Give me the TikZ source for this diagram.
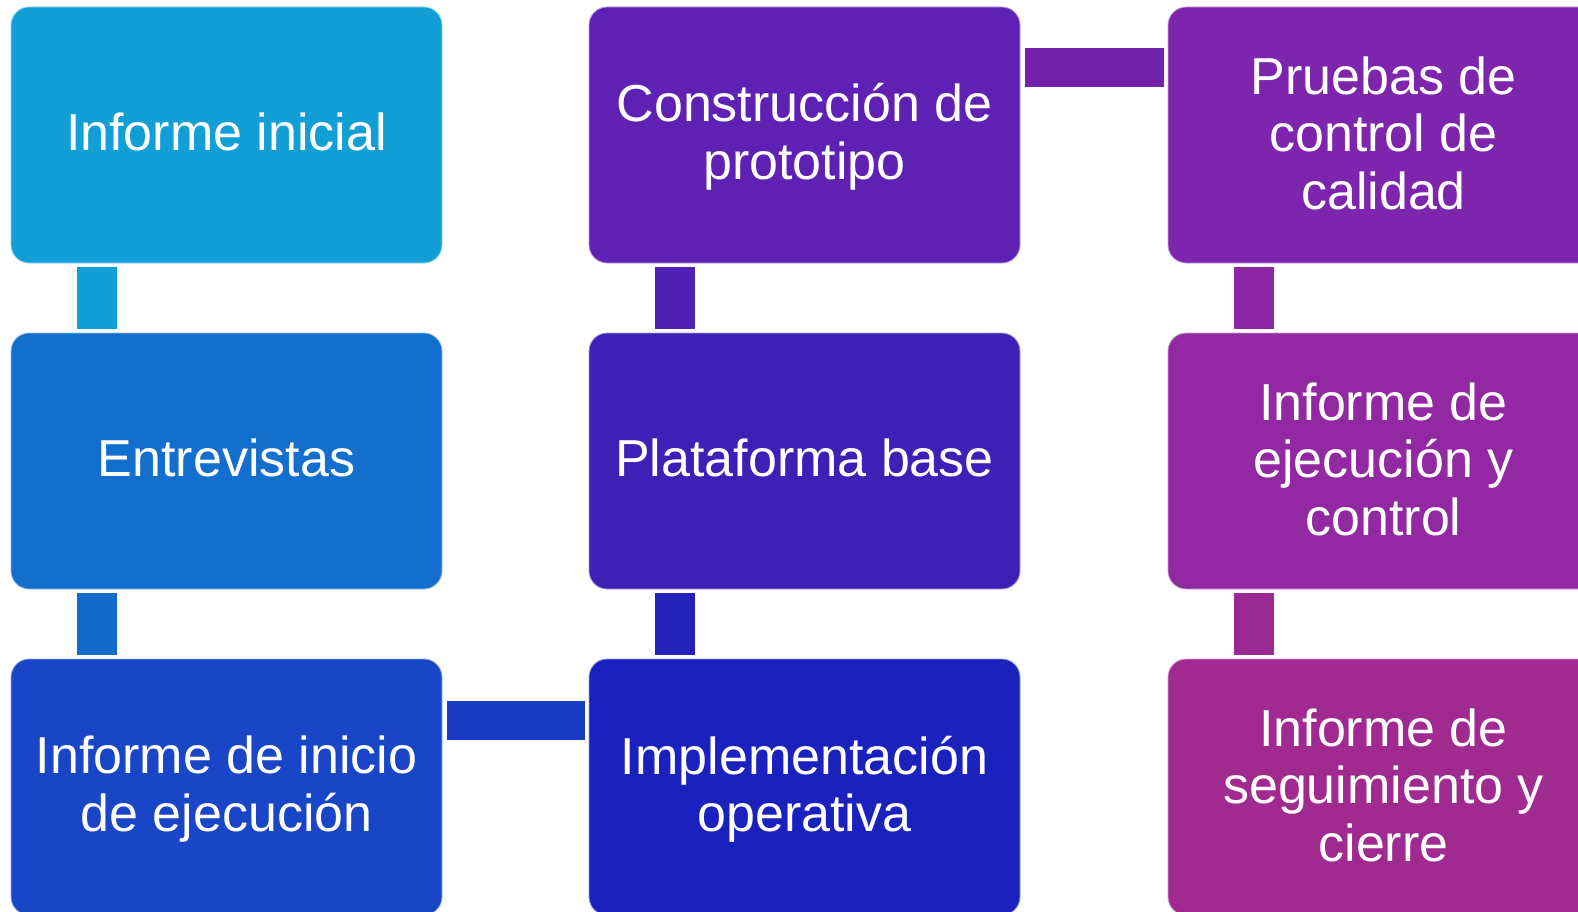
\documentclass[tikz,border=0pt]{standalone}
\usepackage{fontspec}
\setmainfont{Liberation Sans}
\definecolor{bA}{HTML}{129FD6}
\definecolor{bB}{HTML}{136FCD}
\definecolor{bC}{HTML}{1846C6}
\definecolor{bD}{HTML}{1A21BC}
\definecolor{bE}{HTML}{3D20B6}
\definecolor{bF}{HTML}{5F21B3}
\definecolor{bG}{HTML}{7D25AD}
\definecolor{bH}{HTML}{9228A2}
\definecolor{bI}{HTML}{A02A8F}
\definecolor{cA}{HTML}{129FD6}
\definecolor{cB}{HTML}{1469CC}
\definecolor{cC}{HTML}{1A3CC4}
\definecolor{cD}{HTML}{2420BA}
\definecolor{cE}{HTML}{5020B5}
\definecolor{cF}{HTML}{7222AB}
\definecolor{cG}{HTML}{8E26A3}
\definecolor{cH}{HTML}{9A2893}
\tikzset{
  stagebox/.style={rounded corners=18pt, minimum width=431pt, minimum height=256pt,
    inner sep=0pt, fill=#1, draw=white!55!#1, line width=0.8pt},
  stagetext/.style={inner sep=0pt, text=white, align=center,
    font=\fontsize{52}{57.5}\selectfont},
  vbar/.style={line width=40pt, draw=#1, line cap=butt},
  hbar/.style={line width=39pt, draw=#1, line cap=butt}
}
\begin{document}
\begin{tikzpicture}[x=1pt,y=-1pt]
\useasboundingbox (0,0) rectangle (1578,912);
\clip (0,0) rectangle (1578,912);
\fill[white] (0,0) rectangle (1578,912);
% column 1
\node[stagebox=bA] (n11) at (226.5,135) {};
\node[stagebox=bB] (n21) at (226.5,461) {};
\node[stagebox=bC] (n31) at (226.5,787) {};
% column 2
\node[stagebox=bF] (n12) at (804.5,135) {};
\node[stagebox=bE] (n22) at (804.5,461) {};
\node[stagebox=bD] (n32) at (804.5,787) {};
% column 3
\node[stagebox=bG] (n13) at (1383.5,135) {};
\node[stagebox=bH] (n23) at (1383.5,461) {};
\node[stagebox=bI] (n33) at (1383.5,787) {};
% texts
\node[stagetext] (t11) at ([yshift=3pt]n11.center) {Informe inicial};
\node[stagetext] (t21) at ([yshift=3pt]n21.center) {Entrevistas};
\node[stagetext] (t31) at ([yshift=-2pt]n31.center) {Informe de inicio\\de ejecución};
\node[stagetext] (t12) at ([yshift=-2pt]n12.center) {Construcción de\\prototipo};
\node[stagetext] (t22) at ([yshift=3pt]n22.center) {Plataforma base};
\node[stagetext] (t32) at ([yshift=-2pt]n32.center) {Implementación\\operativa};
\node[stagetext] (t13) at ([yshift=2pt]n13.center) {Pruebas de\\control de\\calidad};
\node[stagetext] (t23) at ([yshift=2pt]n23.center) {Informe de\\ejecución y\\control};
\node[stagetext] (t33) at ([yshift=2pt]n33.center) {Informe de\\seguimiento y\\cierre};
% connectors
\draw[vbar=cA] ([xshift=86pt,yshift=-4pt]n11.south west) -- ([xshift=86pt,yshift=4pt]n21.north west);
\draw[vbar=cB] ([xshift=86pt,yshift=-4pt]n21.south west) -- ([xshift=86pt,yshift=4pt]n31.north west);
\draw[hbar=cC] ([xshift=5pt,yshift=-61.5pt]n31.north east) -- ([xshift=-4pt,yshift=-61.5pt]n32.north west);
\draw[vbar=cD] ([xshift=86pt,yshift=4pt]n32.north west) -- ([xshift=86pt,yshift=-4pt]n22.south west);
\draw[vbar=cE] ([xshift=86pt,yshift=4pt]n22.north west) -- ([xshift=86pt,yshift=-4pt]n12.south west);
\draw[hbar=cF] ([xshift=5pt,yshift=-61pt]n12.north east) -- ([xshift=-4pt,yshift=-61pt]n13.north west);
\draw[vbar=cG] ([xshift=86pt,yshift=-4pt]n13.south west) -- ([xshift=86pt,yshift=4pt]n23.north west);
\draw[vbar=cH] ([xshift=86pt,yshift=-4pt]n23.south west) -- ([xshift=86pt,yshift=4pt]n33.north west);
\end{tikzpicture}
\end{document}
